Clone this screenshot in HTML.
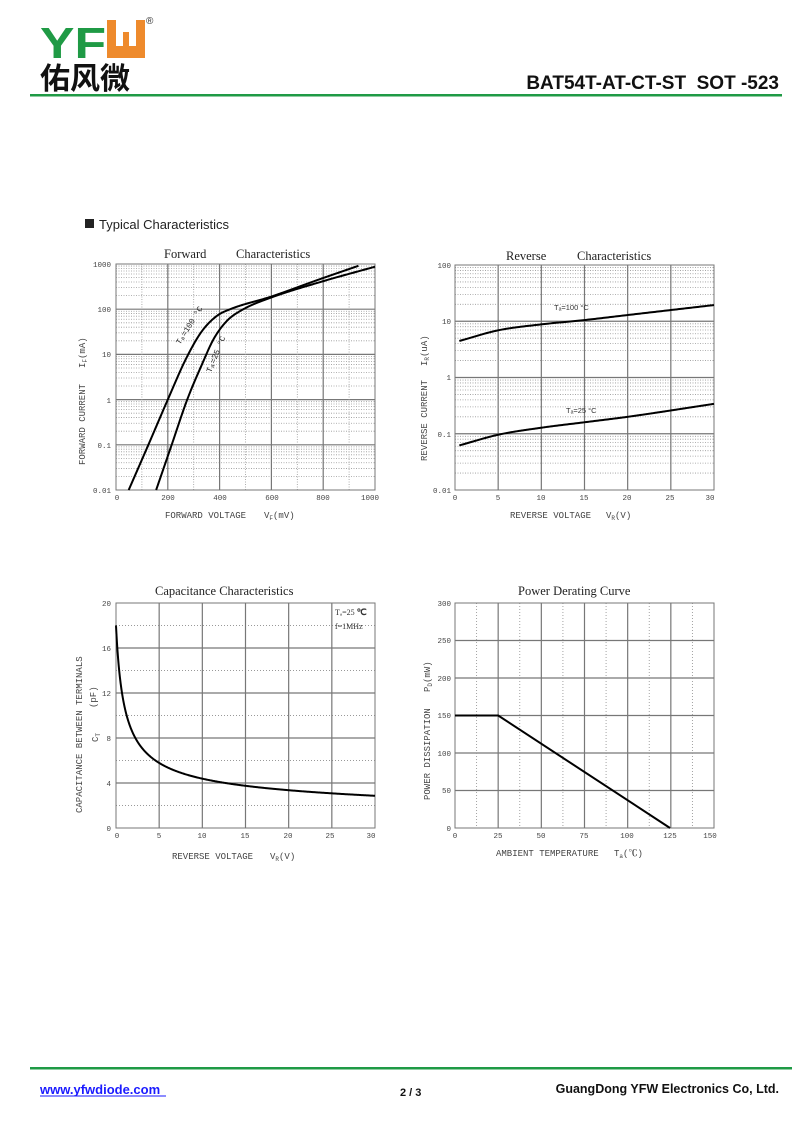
<!DOCTYPE html>
<html><head><meta charset="utf-8"><style>
html,body{margin:0;padding:0;background:#fff}
svg{display:block}
.tk{font-family:"Liberation Mono",monospace;font-size:7.5px;fill:#444}
.ax{font-family:"Liberation Mono","Noto Serif CJK SC",monospace;font-size:9px;fill:#444}
.ti{font-family:"Liberation Serif","Noto Serif CJK SC",serif;font-size:12.5px;fill:#222}
.h{font-family:"Liberation Sans",Arial,sans-serif;font-weight:bold}
</style></head><body>
<svg id="s" width="800" height="1130" viewBox="0 0 800 1130" xmlns="http://www.w3.org/2000/svg">
<rect width="800" height="1130" fill="#fff"/>
<text x="40" y="58" class="h" font-size="44" fill="#1f9a45" textLength="66" lengthAdjust="spacingAndGlyphs">YF</text>
<path d="M107 20 h9 v26 h7 v-14 h6 v14 h7 v-26 h9 v38 h-38 z" fill="#ee8a2c"/>
<text x="146" y="24" font-family="Liberation Sans" font-size="10" fill="#333">®</text>
<text x="40" y="89" font-family="'Noto Sans CJK SC',sans-serif" font-weight="bold" font-size="30" fill="#111">佑风微</text>
<rect x="30" y="94" width="752" height="2.5" fill="#1f9a45"/>
<text x="779" y="89" class="h" font-size="19" text-anchor="end" fill="#111">BAT54T-AT-CT-ST&#160;&#160;SOT&#160;-523</text>
<rect x="85" y="219" width="9" height="9" fill="#222"/>
<text x="99" y="229" font-family="Liberation Sans" font-size="13" fill="#222">Typical Characteristics</text>
<rect x="30" y="1067" width="762" height="2.5" fill="#1f9a45"/>
<text x="40" y="1094" class="h" font-size="13" fill="#1a1aff">www.yfwdiode.com</text>
<line x1="40" y1="1096" x2="166" y2="1096" stroke="#1a1aff" stroke-width="1"/>
<text x="400" y="1096" class="h" font-size="11" fill="#111">2 / 3</text>
<text x="779" y="1093" class="h" font-size="12.5" text-anchor="end" fill="#111">GuangDong YFW Electronics Co, Ltd.</text>

<g id="grids"></g>
<g id="curves" fill="none" stroke="#000" stroke-width="2"></g>

<text x="164" y="258" class="ti">Forward</text>
<text x="236" y="258" class="ti">Characteristics</text>
<g class="tk" text-anchor="end">
<text x="111" y="267">1000</text><text x="111" y="312">100</text><text x="111" y="357">10</text>
<text x="111" y="403">1</text><text x="111" y="448">0.1</text><text x="111" y="493">0.01</text>
</g>
<g class="tk" text-anchor="middle">
<text x="117" y="500">0</text><text x="168" y="500">200</text><text x="220" y="500">400</text>
<text x="272" y="500">600</text><text x="323" y="500">800</text><text x="370" y="500">1000</text>
</g>
<text x="165" y="518" class="ax">FORWARD VOLTAGE</text>
<text x="264" y="518" class="ax">V<tspan font-size="6" dy="2">F</tspan><tspan dy="-2">(mV)</tspan></text>
<text transform="translate(85,465) rotate(-90)" class="ax">FORWARD CURRENT</text>
<text transform="translate(85,368) rotate(-90)" class="ax">I<tspan font-size="6" dy="2">F</tspan><tspan dy="-2">(mA)</tspan></text>
<text transform="translate(180,345) rotate(-58)" class="tk" style="font-size:8px;fill:#222">Tₐ=100 °C</text>
<text transform="translate(211,373) rotate(-68)" class="tk" style="font-size:8px;fill:#222">Tₐ=25 °C</text>

<text x="506" y="260" class="ti">Reverse</text>
<text x="577" y="260" class="ti">Characteristics</text>
<g class="tk" text-anchor="end">
<text x="451" y="268">100</text><text x="451" y="324">10</text><text x="451" y="380">1</text>
<text x="451" y="437">0.1</text><text x="451" y="493">0.01</text>
</g>
<g class="tk" text-anchor="middle">
<text x="455" y="500">0</text><text x="498" y="500">5</text><text x="541" y="500">10</text>
<text x="584" y="500">15</text><text x="627" y="500">20</text><text x="670" y="500">25</text><text x="710" y="500">30</text>
</g>
<text x="510" y="518" class="ax">REVERSE VOLTAGE</text>
<text x="606" y="518" class="ax">V<tspan font-size="6" dy="2">R</tspan><tspan dy="-2">(V)</tspan></text>
<text transform="translate(427,461) rotate(-90)" class="ax">REVERSE CURRENT</text>
<text transform="translate(427,366) rotate(-90)" class="ax">I<tspan font-size="6" dy="2">R</tspan><tspan dy="-2">(uA)</tspan></text>
<text x="554" y="310" font-family="Liberation Sans" font-size="7.5" fill="#333">Tₐ=100  °C</text>
<text x="566" y="413" font-family="Liberation Sans" font-size="7.5" fill="#333">Tₐ=25  °C</text>

<text x="155" y="595" class="ti">Capacitance Characteristics</text>
<g class="tk" text-anchor="end">
<text x="111" y="606">20</text><text x="111" y="651">16</text><text x="111" y="696">12</text>
<text x="111" y="741">8</text><text x="111" y="786">4</text><text x="111" y="831">0</text>
</g>
<g class="tk" text-anchor="middle">
<text x="117" y="838">0</text><text x="159" y="838">5</text><text x="202" y="838">10</text>
<text x="245" y="838">15</text><text x="288" y="838">20</text><text x="330" y="838">25</text><text x="371" y="838">30</text>
</g>
<text x="172" y="859" class="ax">REVERSE VOLTAGE</text>
<text x="270" y="859" class="ax">V<tspan font-size="6" dy="2">R</tspan><tspan dy="-2">(V)</tspan></text>
<text transform="translate(82,813) rotate(-90)" class="ax">CAPACITANCE BETWEEN TERMINALS</text>
<text transform="translate(96,708) rotate(-90)" class="ax">(pF)</text>
<text transform="translate(98,742) rotate(-90)" class="ax">C<tspan font-size="6" dy="2">T</tspan></text>
<text x="335" y="615" font-family="Liberation Serif" font-size="8" fill="#333">Tₐ=25 <tspan font-weight="bold" font-size="9">℃</tspan></text>
<text x="335" y="629" font-family="Liberation Serif" font-size="8" fill="#333">f=1MHz</text>

<text x="518" y="595" class="ti">Power Derating Curve</text>
<g class="tk" text-anchor="end">
<text x="451" y="606">300</text><text x="451" y="643">250</text><text x="451" y="681">200</text>
<text x="451" y="718">150</text><text x="451" y="756">100</text><text x="451" y="793">50</text><text x="451" y="831">0</text>
</g>
<g class="tk" text-anchor="middle">
<text x="455" y="838">0</text><text x="498" y="838">25</text><text x="541" y="838">50</text>
<text x="584" y="838">75</text><text x="627" y="838">100</text><text x="670" y="838">125</text><text x="710" y="838">150</text>
</g>
<text x="496" y="856" class="ax">AMBIENT TEMPERATURE</text>
<text x="614" y="856" class="ax">T<tspan font-size="6" dy="2">a</tspan><tspan dy="-2">(<tspan font-weight="bold">℃</tspan>)</tspan></text>
<text transform="translate(430,800) rotate(-90)" class="ax">POWER DISSIPATION</text>
<text transform="translate(430,692) rotate(-90)" class="ax">P<tspan font-size="6" dy="2">D</tspan><tspan dy="-2">(mW)</tspan></text>
</svg>
<script>
var NS="http://www.w3.org/2000/svg",G=document.getElementById("grids"),C=document.getElementById("curves");
function ln(g,x1,y1,x2,y2,st,w,d){var e=document.createElementNS(NS,"line");e.setAttribute("x1",x1);e.setAttribute("y1",y1);e.setAttribute("x2",x2);e.setAttribute("y2",y2);e.setAttribute("stroke",st);e.setAttribute("stroke-width",w);if(d)e.setAttribute("stroke-dasharray",d);g.appendChild(e);}
var SOL="#777",DOT="#999";
function box(x0,y0,x1,y1){var r=document.createElementNS(NS,"rect");r.setAttribute("x",x0);r.setAttribute("y",y0);r.setAttribute("width",x1-x0);r.setAttribute("height",y1-y0);r.setAttribute("fill","none");r.setAttribute("stroke","#777");r.setAttribute("stroke-width","1");G.appendChild(r);}
function logGrid(x0,x1,y0,y1,dec,nvx,minorV){var dh=(y1-y0)/dec;
 for(var d=0;d<dec;d++){for(var k=2;k<10;k++){var y=y1-d*dh-Math.log10(k)*dh;ln(G,x0,y,x1,y,DOT,0.8,"1,1.5");}
 if(d>0)ln(G,x0,y1-d*dh,x1,y1-d*dh,SOL,1.2);}
 for(var i=1;i<nvx;i++){var x=x0+(x1-x0)*i/nvx;ln(G,x,y0,x,y1,SOL,1.2);}
 if(minorV)for(var i=0;i<nvx;i++){var x=x0+(x1-x0)*(i+0.5)/nvx;ln(G,x,y0,x,y1,DOT,0.8,"1,1.5");}
 box(x0,y0,x1,y1);}
logGrid(116,375,264,490,5,5,true);
logGrid(455,714,265,490,4,6,false);
(function(){var x0=116,x1=375,y0=603,y1=828;for(var v=2;v<20;v+=2){var y=y1-v*11.25;if(v%4)ln(G,x0,y,x1,y,DOT,0.9,"1,2");else ln(G,x0,y,x1,y,SOL,1.2);}
for(var i=1;i<6;i++){var x=x0+i*259/6;ln(G,x,y0,x,y1,SOL,1.2);}box(x0,y0,x1,y1);})();
(function(){var x0=455,x1=714,y0=603,y1=828;for(var i=1;i<6;i++){var y=y1-i*37.5;ln(G,x0,y,x1,y,SOL,1.2);}
for(var i=0;i<6;i++){var x=x0+(i+0.5)*259/6;ln(G,x,y0,x,y1,DOT,0.9,"1,2");if(i>0)ln(G,x0+i*259/6,y0,x0+i*259/6,y1,SOL,1.2);}box(x0,y0,x1,y1);})();
function mono(xs,ys){var n=xs.length,d=[],m=[];for(var i=0;i<n-1;i++)d.push((ys[i+1]-ys[i])/(xs[i+1]-xs[i]));
 m[0]=d[0];m[n-1]=d[n-2];for(var i=1;i<n-1;i++){m[i]=(d[i-1]*d[i]<=0)?0:(d[i-1]+d[i])/2;}
 for(var i=0;i<n-1;i++){if(d[i]==0){m[i]=m[i+1]=0;continue;}var a=m[i]/d[i],b=m[i+1]/d[i],s=a*a+b*b;if(s>9){var t=3/Math.sqrt(s);m[i]=t*a*d[i];m[i+1]=t*b*d[i];}}
 return function(x){var i=0;while(i<n-2&&x>xs[i+1])i++;var h=xs[i+1]-xs[i],t=(x-xs[i])/h,t2=t*t,t3=t2*t;
 return (2*t3-3*t2+1)*ys[i]+(t3-2*t2+t)*h*m[i]+(-2*t3+3*t2)*ys[i+1]+(t3-t2)*h*m[i+1];};}
function curve(data,fx,fy,step){var xs=data.map(function(p){return p[0]}),ys=data.map(function(p){return p[1]});var f=mono(xs,ys),pts=[];
 var a=xs[0],b=xs[xs.length-1];for(var k=0;k<=step;k++){var x=a+(b-a)*k/step;pts.push(fx(x).toFixed(2)+","+fy(f(x)).toFixed(2));}
 var e=document.createElementNS(NS,"polyline");e.setAttribute("points",pts.join(" "));C.appendChild(e);}
var fxF=function(v){return 116+v*0.259},fyF=function(l){return 264+(3-l)*45.2};
function lg(a){return a.map(function(p){return[p[0],Math.log10(p[1])]});}
curve([[49,-2],[125,-1],[200,0],[270,0.9],[330,1.5],[389,1.85],[441,2],[600,2.28],[780,2.65],[936,2.96]],fxF,fyF,500);
curve([[155,-2],[215,-1],[275,0],[332,0.78],[377,1.34],[428,1.74],[492,2],[595,2.25],[800,2.62],[1000,2.94]],fxF,fyF,500);
var fxR=function(v){return 455+v*259/30},fyR=function(l){return 265+(2-l)*56.25};
curve(lg([[0.5,4.46],[5,6.9],[10,8.8],[15,10.5],[20,12.9],[30,19.4]]),fxR,fyR,200);
curve(lg([[0.5,0.062],[5,0.096],[10,0.128],[15,0.16],[20,0.2],[30,0.34]]),fxR,fyR,200);
var fxC=function(v){return 116+v*259/30},fyC=function(c){return 828-c*11.25};
(function(){var pts=[];for(var k=0;k<=600;k++){var v=30*Math.pow(k/600,2);var c=2+16/Math.pow(1+v/0.7,0.68)-0.012*v;pts.push(fxC(v).toFixed(2)+","+fyC(c).toFixed(2));}
 var e=document.createElementNS(NS,"polyline");e.setAttribute("points",pts.join(" "));C.appendChild(e);})();
var e=document.createElementNS(NS,"polyline");e.setAttribute("points","455,715.5 498.2,715.5 670,828");C.appendChild(e);
</script>
</body></html>
